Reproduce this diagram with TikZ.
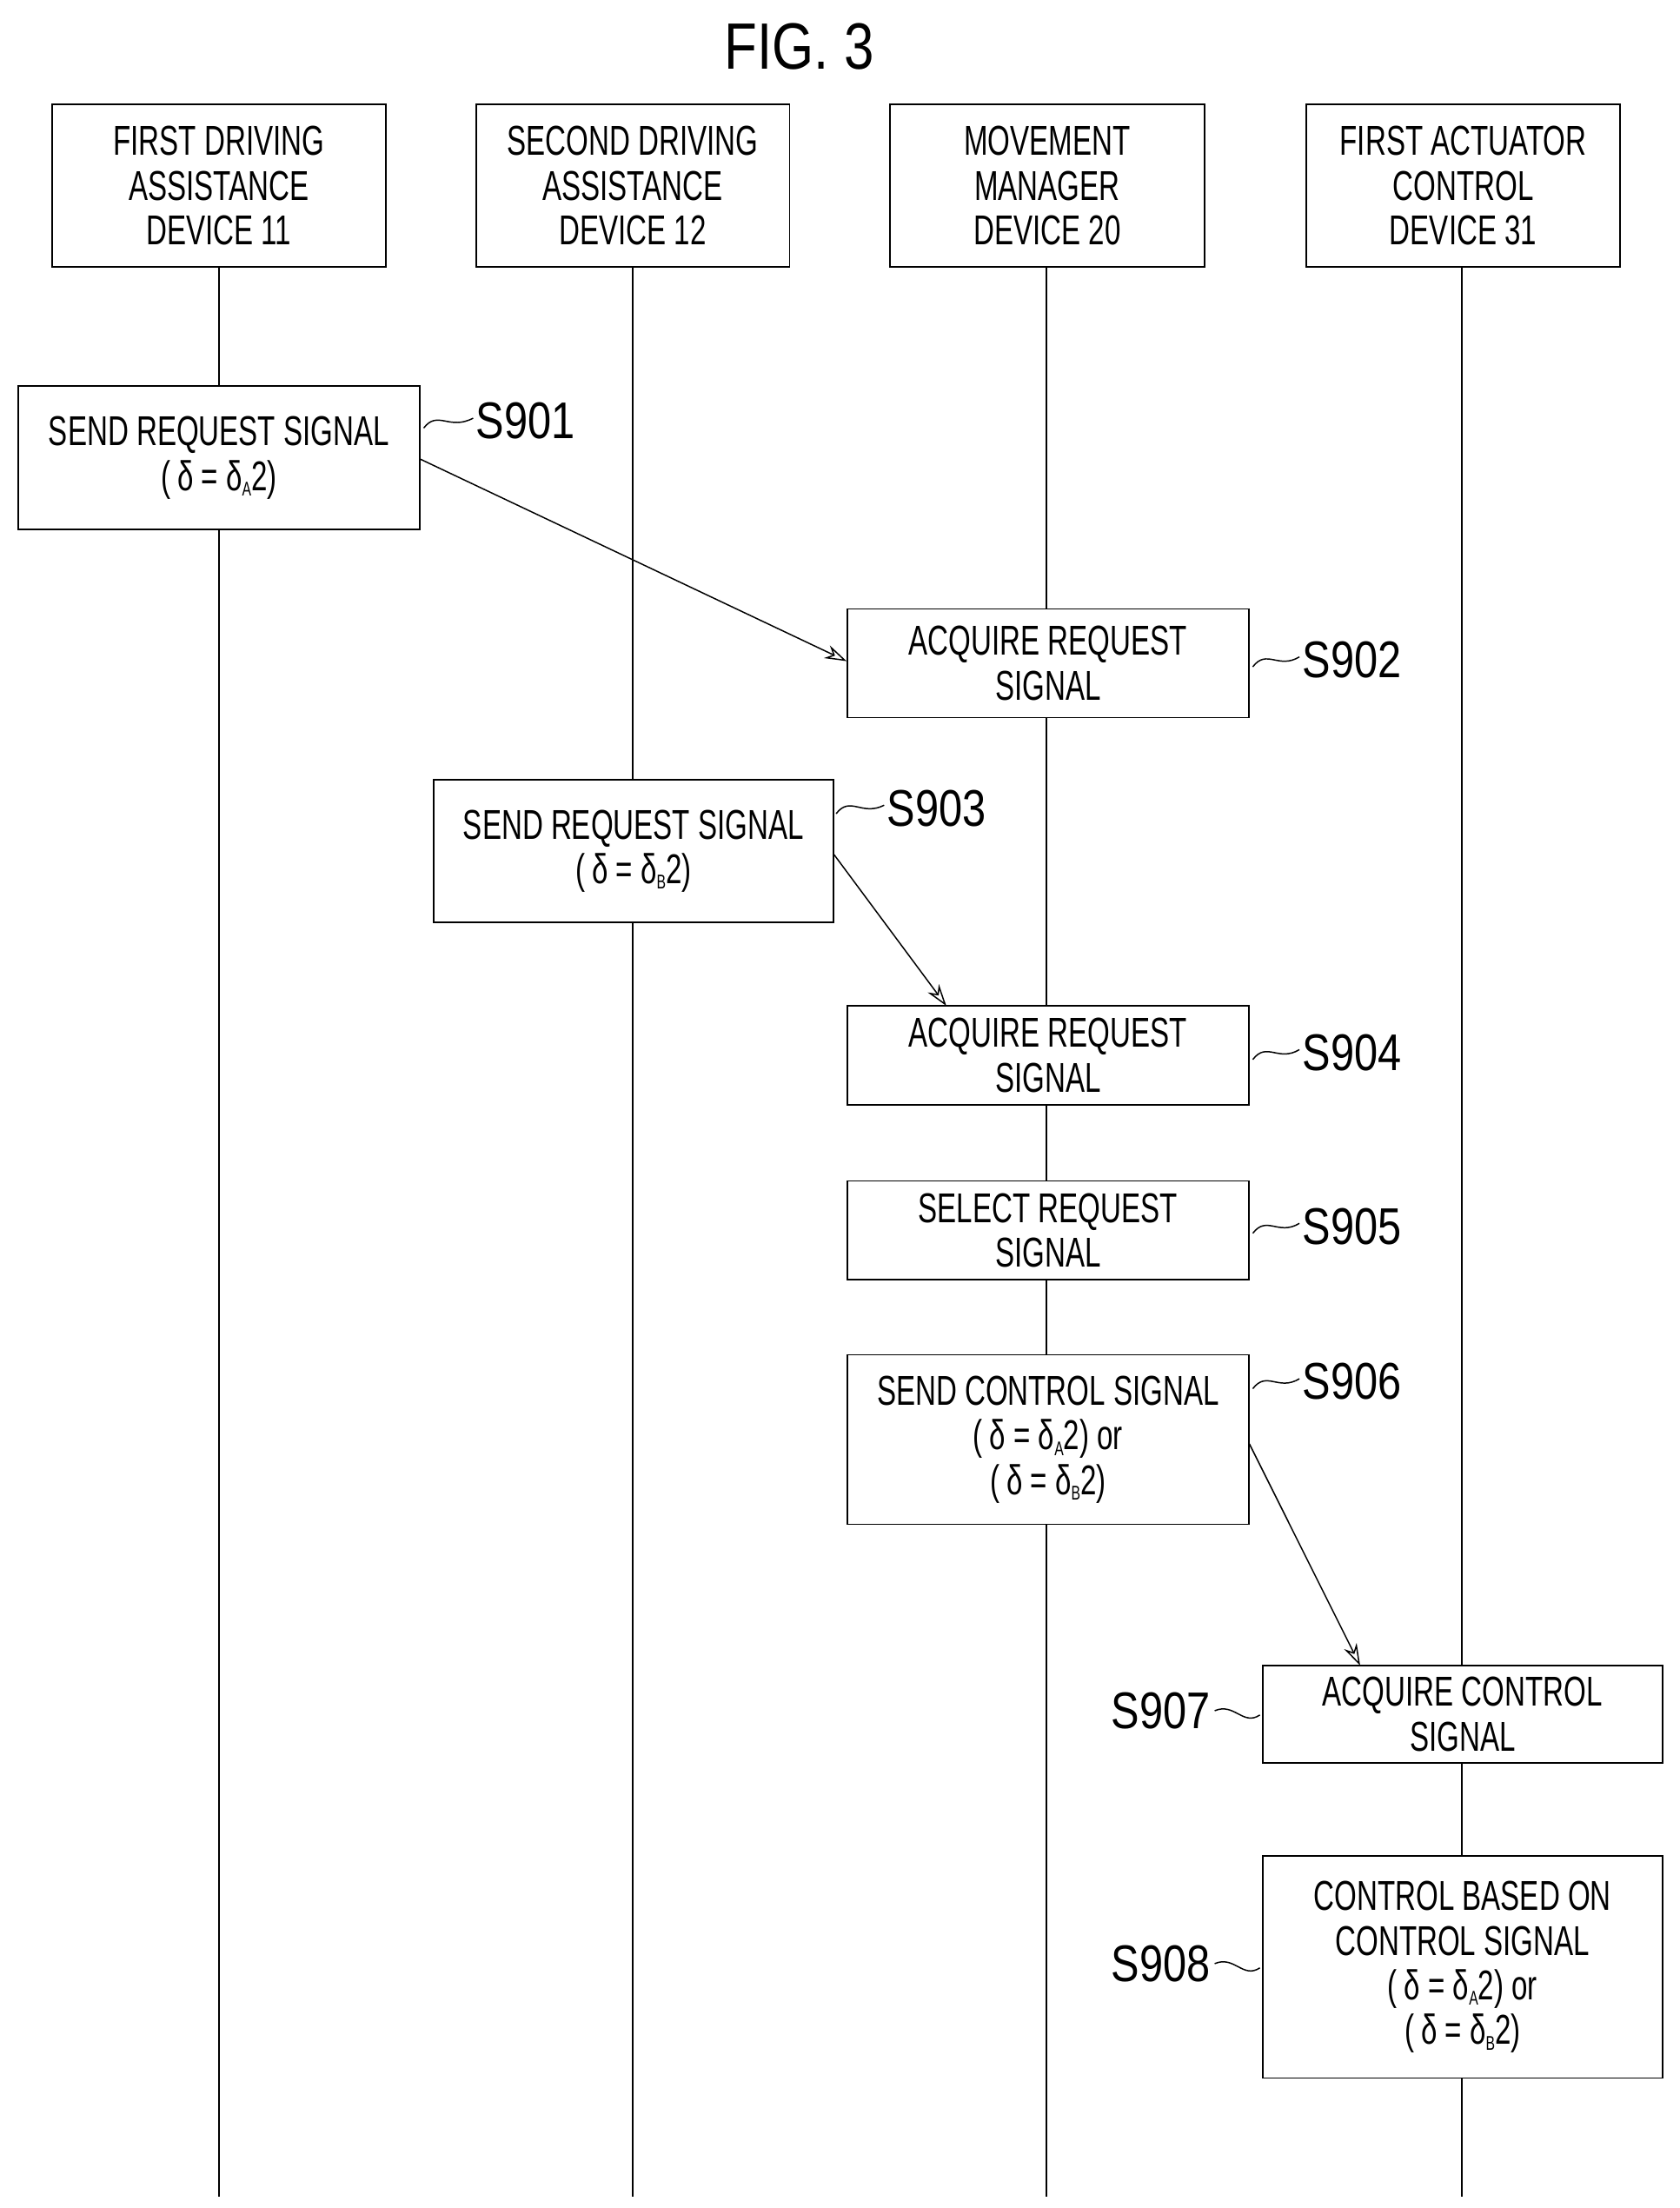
\documentclass[tikz,border=0pt]{standalone}
\usepackage{fontspec}
\setmainfont{Liberation Sans}[FakeStretch=0.69]
\newfontfamily\labfont{Liberation Sans}[FakeStretch=0.82]
\usetikzlibrary{arrows.meta}
\newcommand{\dsub}[1]{\raisebox{-0.25ex}{\fontsize{20}{20}\selectfont #1}}
\newcommand{\dA}{(\,δ\ =\ δ\dsub{A}2)}
\newcommand{\dB}{(\,δ\ =\ δ\dsub{B}2)}
\begin{document}
\begin{tikzpicture}[x=0.05cm,y=-0.05cm,
  box/.style={draw,line width=1.6pt,fill=white,align=center,inner sep=0pt,
    font=\fontsize{42}{45}\selectfont},
  lab/.style={font=\labfont\fontsize{52}{56}\selectfont,inner sep=0pt},
  life/.style={line width=1.3pt},
  arr/.style={line width=1.3pt,-{Stealth[length=22pt,width=14pt,open]}},
  sq/.style={line width=1.3pt}]
\useasboundingbox (0,0) rectangle (1189,1563);
\node[lab,font=\labfont\fontsize{66}{70}\selectfont] (title) at (566,33) {FIG. 3};
\foreach \n/\x in {a/155,b/448,c/741,d/1035}{
  \coordinate (e\n) at (\x,1555);
  \coordinate (t\n) at (\x,189);
  \draw[life] (t\n) -- (e\n);}
\newcommand{\bx}[6]{\node[box,minimum width=#4*0.05cm-#2*0.05cm,minimum height=#5*0.05cm-#3*0.05cm] (#1) at ({(#2+#4)/2},{(#3+#5)/2}) {#6};}
\bx{h1}{37}{74}{273}{189}{FIRST DRIVING\\ASSISTANCE\\DEVICE 11}
\bx{h2}{337}{74}{559}{189}{SECOND DRIVING\\ASSISTANCE\\DEVICE 12}
\bx{h3}{630}{74}{853}{189}{MOVEMENT\\MANAGER\\DEVICE 20}
\bx{h4}{925}{74}{1147}{189}{FIRST ACTUATOR\\CONTROL\\DEVICE 31}
\bx{s1}{13}{273}{297}{375}{SEND REQUEST SIGNAL\\\dA}
\bx{s2}{600}{431}{884}{508}{ACQUIRE REQUEST\\SIGNAL}
\bx{s3}{307}{552}{590}{653}{SEND REQUEST SIGNAL\\\dB}
\bx{s4}{600}{712}{884}{782}{ACQUIRE REQUEST\\SIGNAL}
\bx{s5}{600}{836}{884}{906}{SELECT REQUEST\\SIGNAL}
\bx{s6}{600}{959}{884}{1079}{SEND CONTROL SIGNAL\\\dA{} or\\\dB}
\bx{s7}{894}{1179}{1177}{1248}{ACQUIRE CONTROL\\SIGNAL}
\bx{s8}{894}{1314}{1177}{1471}{CONTROL BASED ON\\CONTROL SIGNAL\\\dA{} or\\\dB}
\draw[arr] (s1.east |- 0,325) -- (s2.west |- 0,468);
\draw[arr] (s3.east |- 0,605) -- (670,712) coordinate (a2);
\draw[arr] (s6.east |- 0,1022) -- (963,1179) coordinate (a3);
\node[lab,anchor=west] (l1) at (337,298) {S901};
\node[lab,anchor=west] (l2) at (922,467) {S902};
\node[lab,anchor=west] (l3) at (628,572) {S903};
\node[lab,anchor=west] (l4) at (922,745) {S904};
\node[lab,anchor=west] (l5) at (922,868) {S905};
\node[lab,anchor=west] (l6) at (922,978) {S906};
\node[lab,anchor=east] (l7) at (857,1211) {S907};
\node[lab,anchor=east] (l8) at (857,1390) {S908};
\draw[sq] (300,303) .. controls (310,290) and (318,305) .. (335,296);
\draw[sq] (887,472) .. controls (897,459) and (905,474) .. (920,465);
\draw[sq] (592,576) .. controls (602,563) and (610,578) .. (626,570);
\draw[sq] (887,750) .. controls (897,737) and (905,752) .. (920,743);
\draw[sq] (887,873) .. controls (897,860) and (905,875) .. (920,866);
\draw[sq] (887,983) .. controls (897,970) and (905,985) .. (920,976);
\draw[sq] (860,1211) .. controls (874,1205) and (880,1222) .. (892,1214);
\draw[sq] (860,1390) .. controls (874,1384) and (880,1401) .. (892,1393);
\end{tikzpicture}
\end{document}
